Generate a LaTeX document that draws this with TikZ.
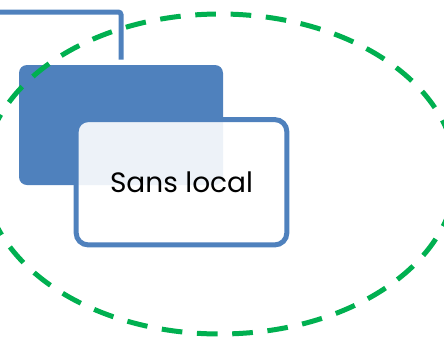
\documentclass[tikz,border=0pt]{standalone}
\usepackage{fontspec}
\setmainfont{Poppins}
\usetikzlibrary{positioning}
\usetikzlibrary{shapes.geometric}
\definecolor{boxblue}{HTML}{4F81BD}
\definecolor{zonegreen}{HTML}{00B050}

\begin{document}
\begin{tikzpicture}
 [ x=0.75pt, y=-0.75pt
 , back/.style={fill=boxblue, rounded corners=6pt, minimum width=153pt, minimum height=90pt, inner sep=0pt}
 , front/.style={draw=boxblue, line width=3.75pt, fill=white, fill opacity=0.9, text opacity=1, rounded corners=9pt, minimum width=158pt, minimum height=94pt, inner sep=0pt, font=\fontsize{21}{25}\selectfont}
 , link/.style={draw=boxblue, line width=3.75pt, rounded corners=2pt}
 , zone/.style={draw=zonegreen, line width=3.75pt, dash pattern=on 15.5pt off 11pt, ellipse, minimum width=354pt, minimum height=240pt, inner sep=0pt}
 ]
  \useasboundingbox (0,0) rectangle (444,337);
  \node [back] (local back) at (121,125) {};
  \node [front] (local) at (181.5,182.25) {Sans local};
  \coordinate (entry) at (0,12);
  \draw [link, shorten >=3.75pt] (entry) -| (local back.north);
  % dashed zone round both boxes
  \node [zone] (zone) at (220,174) {};
\end{tikzpicture}
\end{document}
